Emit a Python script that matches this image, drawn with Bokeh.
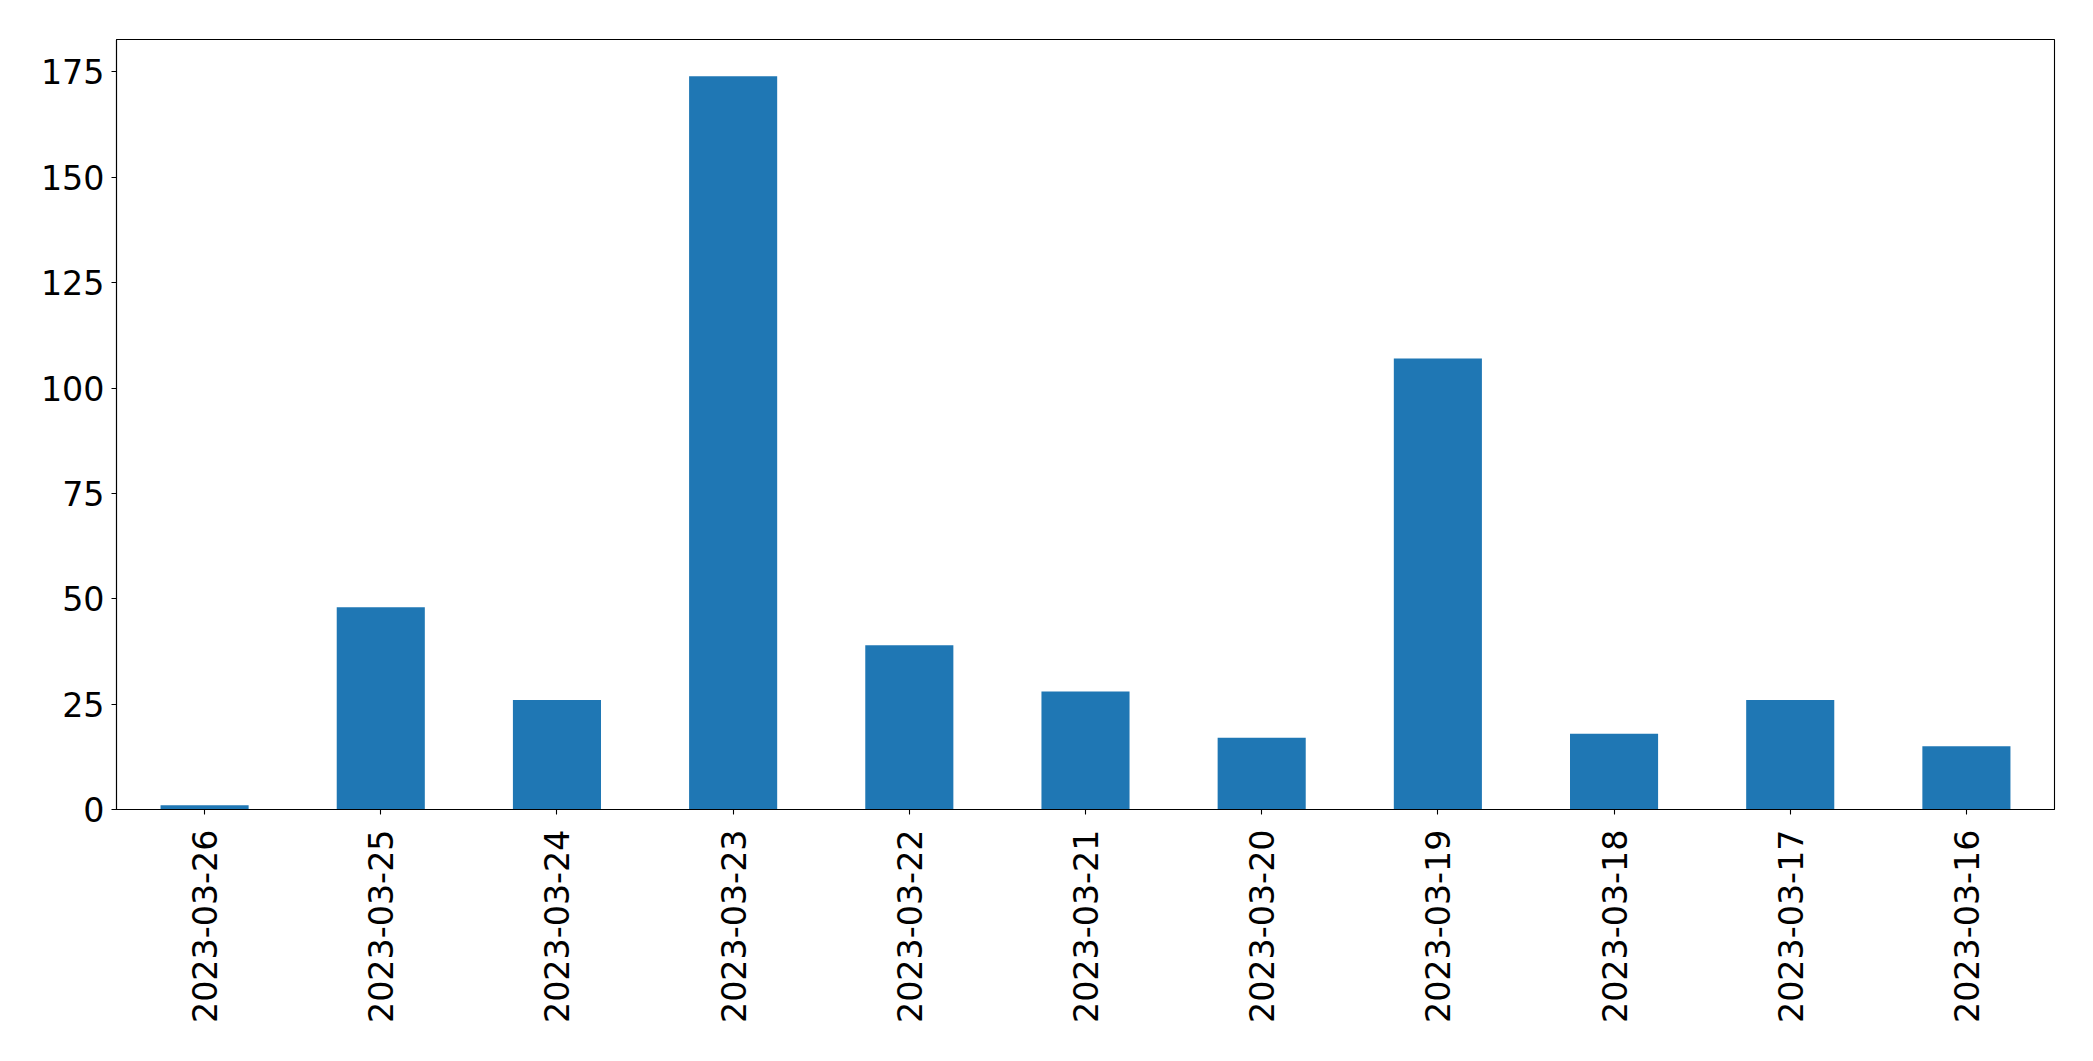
import math
from bokeh.plotting import figure
from bokeh.models import Range1d, FactorRange, SingleIntervalTicker
from bokeh.embed import file_html
from bokeh.resources import INLINE

dates = ["2023-03-26", "2023-03-25", "2023-03-24", "2023-03-23", "2023-03-22",
         "2023-03-21", "2023-03-20", "2023-03-19", "2023-03-18", "2023-03-17",
         "2023-03-16"]
counts = [1, 48, 26, 174, 39, 28, 17, 107, 18, 26, 15]

ymax = max(counts) * 1.05

p = figure(x_range=FactorRange(factors=dates), y_range=Range1d(0, ymax),
           frame_width=1938, frame_height=770,
           min_border_left=116, min_border_top=39, min_border_right=20,
           min_border_bottom=230,
           output_backend="svg", toolbar_location=None, tools="")

p.vbar(x=dates, top=counts, width=0.5, color="#1f77b4", line_color=None)

p.xgrid.visible = False
p.ygrid.visible = False
p.outline_line_color = "black"
p.outline_line_width = 1.1
p.background_fill_color = "white"
p.border_fill_color = "white"

p.yaxis.ticker = SingleIntervalTicker(interval=25, num_minor_ticks=0)
for ax in (p.xaxis[0], p.yaxis[0]):
    ax.major_label_text_font = "DejaVu Sans"
    ax.major_label_text_font_size = "33.3px"
    ax.major_label_text_color = "black"
    ax.axis_line_color = "black"
    ax.axis_line_width = 1.1
    ax.major_tick_line_color = "black"
    ax.major_tick_line_width = 1.1
    ax.major_tick_out = 5
    ax.major_tick_in = 0
    ax.minor_tick_line_color = None
p.yaxis.major_label_standoff = 7
p.xaxis.major_label_standoff = 15
p.xaxis.major_label_orientation = math.pi / 2

open("out.html", "w").write(file_html(p, INLINE))
